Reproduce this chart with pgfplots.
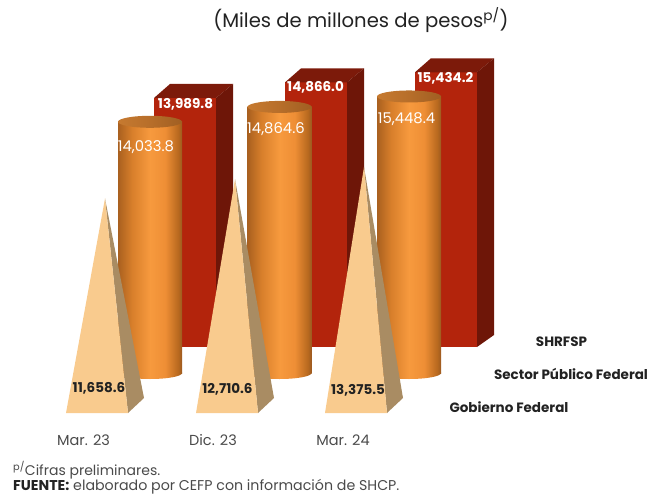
\documentclass[border=0pt]{standalone}
\usepackage{fontspec}
\setmainfont{Poppins}
\usepackage{pgfplots}
\pgfplotsset{compat=1.18}

\definecolor{barfront}{HTML}{B3240C}
\definecolor{barside}{HTML}{6E1608}
\definecolor{bartop}{HTML}{7C1A0A}
\definecolor{pyrfront}{HTML}{F9CB8E}
\definecolor{pyrside}{HTML}{A98C63}
\definecolor{inkdark}{HTML}{222222}
\definecolor{inkgray}{HTML}{4A4A4A}
\definecolor{wallA}{HTML}{A9601F}
\definecolor{wallB}{HTML}{D87F2B}
\definecolor{wallC}{HTML}{F79A3E}
\definecolor{wallD}{HTML}{EE8E35}
\definecolor{wallE}{HTML}{B8691F}
\definecolor{wallF}{HTML}{9C5A20}
\definecolor{lidA}{HTML}{C67A30}
\definecolor{lidB}{HTML}{B76E2A}
\definecolor{lidC}{HTML}{A05E22}

% Cylinder wall and lid: light runs across the width
\pgfdeclarehorizontalshading{cylwall}{100bp}{
  color(0bp)=(wallA);
  color(25bp)=(wallA);
  color(36bp)=(wallB);
  color(50bp)=(wallC);
  color(62bp)=(wallD);
  color(72bp)=(wallE);
  color(75bp)=(wallF);
  color(100bp)=(wallF)}
\pgfdeclarehorizontalshading{cyllid}{100bp}{
  color(0bp)=(lidA);
  color(25bp)=(lidA);
  color(50bp)=(lidB);
  color(75bp)=(lidC);
  color(100bp)=(lidC)}
\pgfdeclareplotmark{cyltop}{\path[draw=none,shade,shading=cyllid] (0,0) ellipse (32pt and 6pt);}
\pgfdeclareplotmark{cylfoot}{\path[draw=none,shade,shading=cylwall] (-32pt,0.5pt) -- (-32pt,0pt) arc (180:360:32pt and 6pt) -- (32pt,0.5pt) -- cycle;}

% All three series share one canvas; each has its own floor, because of the depth view
\pgfplotsset{
  canvas/.style={scale only axis,width=663pt,xmin=0,xmax=663,ymin=0,clip=false,hide axis},
  cylmark/.style={only marks,mark options={draw=none,fill=none}},
}

% Red box: front at x=#1, height #2
\newcommand{\redbox}[2]{%
  \pgfmathsetmacro{\xa}{#1+62}%
  \pgfmathsetmacro{\xb}{#1+16}%
  \pgfmathsetmacro{\xc}{#1+79}%
  \pgfmathsetmacro{\yb}{#2+787}%
  \addplot[draw=none,fill=barfront] coordinates {(#1,0) (#1,#2) (\xa,#2) (\xa,0)};
  \addplot[draw=none,fill=bartop] coordinates {(#1,#2) (\xb,\yb) (\xc,\yb) (\xa,#2)};
  \addplot[draw=none,fill=barside] coordinates {(\xa,0) (\xa,#2) (\xc,\yb) (\xc,674)};
}
% Cylinder: axis at x=#1, height #2
\newcommand{\cylinder}[2]{%
  \addplot[cylmark,mark=cylfoot] coordinates {(#1,0)};
  \addplot[ybar,bar width=64pt,bar shift=0pt,draw=none,shade,shading=cylwall] coordinates {(#1,#2)};
  \addplot[cylmark,mark=cyltop] coordinates {(#1,#2)};
}
% Pyramid: front base starts at x=#1, height #2
\newcommand{\pyramid}[2]{%
  \pgfmathsetmacro{\xa}{#1+62}%
  \pgfmathsetmacro{\xb}{#1+39}%
  \pgfmathsetmacro{\xc}{#1+78}%
  \addplot[draw=none,fill=pyrside] coordinates {(\xa,0) (\xc,815) (\xb,#2)};
  \addplot[draw=none,fill=pyrfront] coordinates {(#1,0) (\xb,#2) (\xa,0)};
}
\newcommand{\lab}[5][]{\node[font=\fontsize{#2pt}{#2pt}\selectfont,#1] at ({#3*1pt},{(496-#4)*1pt}) {#5};}

\begin{document}
\begin{tikzpicture}[x=1pt,y=1pt]
\path[use as bounding box] (0,0) rectangle (663pt,496pt);

% SHRFSP
\begin{axis}[canvas,at={(0pt,149pt)},height=347pt,ymax=19494.4]
  \redbox{154}{13989.8}
  \redbox{285}{14866.0}
  \redbox{415}{15434.2}
\end{axis}

% Sector Publico Federal
\begin{axis}[canvas,at={(0pt,123pt)},height=373pt,ymax=20838]
  \cylinder{150}{14033.8}
  \cylinder{279.5}{14864.6}
  \cylinder{409}{15448.4}
\end{axis}

% Gobierno Federal, with the shared period labels
\begin{axis}[scale only axis,width=663pt,height=413pt,at={(0pt,83pt)},
    xmin=0,xmax=663,ymin=0,ymax=22445.7,clip=false,
    hide y axis,axis x line*=bottom,x axis line style={draw=none},
    xtick={83.5,213,343},xticklabels={Mar. 23,Dic. 23,Mar. 24},
    major tick length=0pt,
    xticklabel style={font=\fontsize{14.5pt}{15pt}\selectfont,text=inkgray,
      anchor=center,yshift=-27pt}]
  \pyramid{66}{11658.6}
  \pyramid{196}{12710.6}
  \pyramid{325}{13375.5}
\end{axis}

% Value labels
\lab[text=white,font=\fontsize{13.5pt}{14pt}\selectfont\bfseries]{13.5}{185.5}{104}{13,989.8}
\lab[text=white,font=\fontsize{13.5pt}{14pt}\selectfont\bfseries]{13.5}{315.5}{87}{14,866.0}
\lab[text=white,font=\fontsize{13.5pt}{14pt}\selectfont\bfseries]{13.5}{445.5}{78}{15,434.2}
\lab[text=white]{14.8}{146}{147}{14,033.8}
\lab[text=white]{14.8}{276}{129}{14,864.6}
\lab[text=white]{14.8}{406.5}{119}{15,448.4}
\lab[text=inkdark,font=\fontsize{13.5pt}{14pt}\selectfont\bfseries]{13.5}{99}{388}{11,658.6}
\lab[text=inkdark,font=\fontsize{13.5pt}{14pt}\selectfont\bfseries]{13.5}{227.5}{389}{12,710.6}
\lab[text=inkdark,font=\fontsize{13.5pt}{14pt}\selectfont\bfseries]{13.5}{358}{390}{13,375.5}

% Series names
\lab[text=inkdark,font=\fontsize{13.5pt}{14pt}\selectfont\bfseries]{13.5}{561.5}{342}{SHRFSP}
\lab[text=inkdark,font=\fontsize{13.5pt}{14pt}\selectfont\bfseries]{13.5}{571}{374}{Sector Público Federal}
\lab[text=inkdark,font=\fontsize{13.5pt}{14pt}\selectfont\bfseries]{13.5}{509}{407}{Gobierno Federal}

% Title and notes
\lab[text=inkdark]{19.6}{361}{20}{(Miles de millones de pesos\textsuperscript{p/})}
\lab[text=inkgray,anchor=west,inner sep=0pt]{14}{13}{470}{\textsuperscript{p/}Cifras preliminares.}
\lab[text=inkgray,anchor=west,inner sep=0pt]{14.2}{13}{486.5}{\textcolor{inkdark}{\textbf{FUENTE:}} elaborado por CEFP con información de SHCP.}
\end{tikzpicture}
\end{document}
